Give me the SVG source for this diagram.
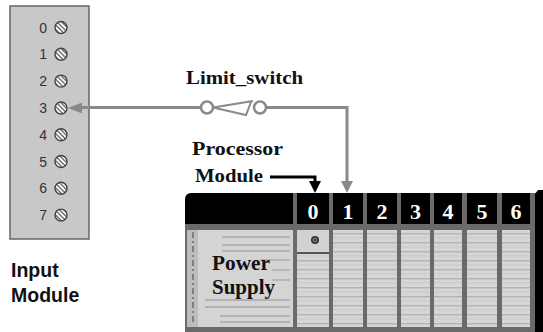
<svg xmlns="http://www.w3.org/2000/svg" width="543" height="332" viewBox="0 0 543 332">
  <style>
    .num { font-family: "Liberation Sans", Arial, sans-serif; font-size: 14px; fill: #333; text-anchor: end; }
    .lbl { font-family: "Liberation Sans", Arial, sans-serif; font-size: 19.5px; font-weight: bold; fill: #111; }
    .serif { font-family: "Liberation Serif", "Times New Roman", serif; font-weight: bold; fill: #111; }
    .slotnum { font-family: "Liberation Serif", "Times New Roman", serif; font-weight: bold; font-size: 22px; fill: #fff; text-anchor: middle; }
    .wire { fill: none; stroke: #8a8a8a; stroke-width: 3; }
    .term { fill: url(#hatch); stroke: #444; stroke-width: 1.4; }
    .face { fill: url(#ribs); }
  </style>
  <defs>
    <pattern id="hatch" width="3.2" height="3.2" patternUnits="userSpaceOnUse" patternTransform="rotate(45)">
      <rect width="3.2" height="3.2" fill="#fff"/>
      <rect width="3.2" height="1.4" fill="#6a6a6a"/>
    </pattern>
    <pattern id="ribs" width="10" height="9" patternUnits="userSpaceOnUse" y="230">
      <rect width="10" height="9" fill="#d6d6d6"/>
      <rect y="3" width="10" height="1.4" fill="#b4b4b4"/>
      <rect y="7.5" width="10" height="0.8" fill="#c4c4c4"/>
    </pattern>
  </defs>

  <!-- input module with terminal screws -->
  <g id="input-module">
    <rect x="10" y="6" width="79" height="233" fill="#c8c8c8" stroke="#666" stroke-width="1.5"/>
    <g>
      <text class="num" x="47" y="32.5">0</text><circle class="term" cx="61" cy="27.5" r="6"/>
      <text class="num" x="47" y="59.3">1</text><circle class="term" cx="61" cy="54.3" r="6"/>
      <text class="num" x="47" y="86.1">2</text><circle class="term" cx="61" cy="81.1" r="6"/>
      <text class="num" x="47" y="113">3</text><circle class="term" cx="61" cy="108" r="6"/>
      <text class="num" x="47" y="139.7">4</text><circle class="term" cx="61" cy="134.7" r="6"/>
      <text class="num" x="47" y="166.5">5</text><circle class="term" cx="61" cy="161.5" r="6"/>
      <text class="num" x="47" y="193.3">6</text><circle class="term" cx="61" cy="188.3" r="6"/>
      <text class="num" x="47" y="220.1">7</text><circle class="term" cx="61" cy="215.1" r="6"/>
    </g>
    <text class="lbl" x="11" y="277">Input</text>
    <text class="lbl" x="11" y="302">Module</text>
  </g>

  <!-- PLC rack -->
  <g id="rack">
    <!-- body / slot dividers -->
    <path d="M185,200 Q185,193 192,193 L536,193 L536,332 L185,332 Z" fill="#6a6a6a"/>
    <!-- header bar -->
    <path d="M185,224 L185,200 Q185,193 192,193 L293,193 L293,224 Z" fill="#000"/>
    <rect x="297" y="193" width="32" height="31" fill="#000"/>
    <rect x="333" y="193" width="30" height="31" fill="#000"/>
    <rect x="367" y="193" width="30" height="31" fill="#000"/>
    <rect x="401" y="193" width="29" height="31" fill="#000"/>
    <rect x="434" y="193" width="28" height="31" fill="#000"/>
    <rect x="467" y="193" width="30" height="31" fill="#000"/>
    <rect x="502" y="193" width="28" height="31" fill="#000"/>
    <!-- right end cap -->
    <path d="M535,194 L538,190 L543,190 L543,332 L535,332 Z" fill="#000"/>
  </g>

  <g id="power-supply">
    <rect x="187" y="230" width="106" height="97" fill="#d4d4d4"/>
    <rect x="187" y="230" width="11" height="97" fill="#bcbcbc"/>
    <line x1="193" y1="232" x2="193" y2="325" stroke="#444" stroke-width="1" stroke-dasharray="6 3 2 3"/>
    <g stroke="#a8a8a8" stroke-width="1.3">
      <line x1="222" y1="237" x2="290" y2="237"/>
      <line x1="222" y1="245" x2="290" y2="245"/>
      <line x1="222" y1="251" x2="290" y2="251"/>
      <line x1="260" y1="260" x2="290" y2="260"/>
      <line x1="272" y1="270" x2="290" y2="270"/>
      <line x1="272" y1="280" x2="290" y2="280"/>
      <line x1="205" y1="300" x2="290" y2="300"/>
      <line x1="205" y1="307" x2="290" y2="307"/>
      <line x1="220" y1="316" x2="290" y2="316"/>
      <line x1="220" y1="322" x2="290" y2="322"/>
    </g>
    <text class="serif" x="212" y="270" font-size="21" textLength="58" lengthAdjust="spacingAndGlyphs">Power</text>
    <text class="serif" x="212" y="294" font-size="21" textLength="63" lengthAdjust="spacingAndGlyphs">Supply</text>
  </g>

  <g id="slot-0">
    <rect x="297" y="230" width="32" height="22" fill="#d2d2d2"/>
    <rect x="297" y="252" width="32" height="2" fill="#555"/>
    <rect class="face" x="297" y="254" width="32" height="73"/>
    <circle cx="315" cy="240" r="4" fill="#333"/>
    <circle cx="315" cy="240" r="1.8" fill="none" stroke="#aaa" stroke-width="0.8"/>
    <text class="slotnum" x="313" y="219">0</text>
  </g>
  <g id="slot-1">
    <rect class="face" x="333" y="230" width="30" height="97"/>
    <text class="slotnum" x="348" y="219">1</text>
  </g>
  <g id="slot-2">
    <rect class="face" x="367" y="230" width="30" height="97"/>
    <text class="slotnum" x="382" y="219">2</text>
  </g>
  <g id="slot-3">
    <rect class="face" x="401" y="230" width="29" height="97"/>
    <text class="slotnum" x="415.5" y="219">3</text>
  </g>
  <g id="slot-4">
    <rect class="face" x="434" y="230" width="28" height="97"/>
    <text class="slotnum" x="448" y="219">4</text>
  </g>
  <g id="slot-5">
    <rect class="face" x="467" y="230" width="30" height="97"/>
    <text class="slotnum" x="482" y="219">5</text>
  </g>
  <g id="slot-6">
    <rect class="face" x="502" y="230" width="28" height="97"/>
    <text class="slotnum" x="516" y="219">6</text>
  </g>

  <!-- limit switch -->
  <g id="limit-switch">
    <circle cx="207" cy="107.5" r="6" fill="#fff" stroke="#8a8a8a" stroke-width="2.5"/>
    <circle cx="260" cy="107.5" r="6" fill="#fff" stroke="#8a8a8a" stroke-width="2.5"/>
    <path d="M213,107.5 L253,101 M213,107.5 L246,115 L251,102" fill="none" stroke="#8a8a8a" stroke-width="2"/>
    <text class="serif" x="186" y="84" font-size="19" textLength="117" lengthAdjust="spacingAndGlyphs">Limit_switch</text>
  </g>

  <g id="processor-label">
    <text class="serif" x="192" y="155" font-size="19" textLength="91" lengthAdjust="spacingAndGlyphs">Processor</text>
    <text class="serif" x="195" y="182" font-size="19" textLength="68" lengthAdjust="spacingAndGlyphs">Module</text>
  </g>

  <!-- connectors -->
  <g id="connectors">
    <polyline class="wire" points="201,107.5 80,107.5"/>
    <polygon points="68,108 82,102.5 82,113.5" fill="#8a8a8a"/>
    <polyline class="wire" points="266,107.5 347,107.5 347,183"/>
    <polygon points="341,181 353,181 347,193" fill="#8a8a8a"/>
    <polyline points="270,177 315,177 315,183" fill="none" stroke="#000" stroke-width="3"/>
    <polygon points="309,181 321,181 315,193" fill="#000"/>
  </g>
</svg>
